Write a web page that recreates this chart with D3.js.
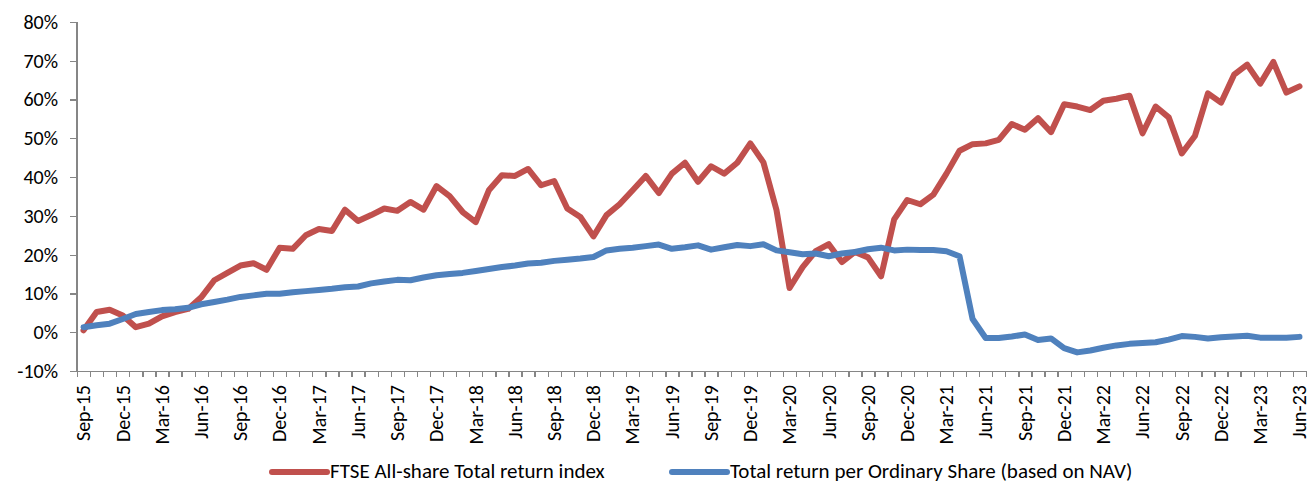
<!DOCTYPE html>
<html>
<head>
<meta charset="utf-8">
<script src="https://cdn.jsdelivr.net/npm/d3@7"></script>
<style>
  body { margin: 0; background: #fff; }
  .axis path, .axis line { stroke: #868686; stroke-width: 1.3; shape-rendering: crispEdges; }
  .axis text, .label, .legend text { font-family: Carlito, Calibri, Lato, sans-serif; fill: #000; }
  .series { fill: none; stroke-width: 6; stroke-linejoin: round; stroke-linecap: round; }
</style>
</head>
<body>
<div id="chart"></div>
<script>
// Monthly categories, Sep-15 .. Jun-23
const categories = [
  'Sep-15', 'Oct-15', 'Nov-15', 'Dec-15',
  'Jan-16', 'Feb-16', 'Mar-16', 'Apr-16', 'May-16', 'Jun-16', 'Jul-16', 'Aug-16', 'Sep-16', 'Oct-16', 'Nov-16', 'Dec-16',
  'Jan-17', 'Feb-17', 'Mar-17', 'Apr-17', 'May-17', 'Jun-17', 'Jul-17', 'Aug-17', 'Sep-17', 'Oct-17', 'Nov-17', 'Dec-17',
  'Jan-18', 'Feb-18', 'Mar-18', 'Apr-18', 'May-18', 'Jun-18', 'Jul-18', 'Aug-18', 'Sep-18', 'Oct-18', 'Nov-18', 'Dec-18',
  'Jan-19', 'Feb-19', 'Mar-19', 'Apr-19', 'May-19', 'Jun-19', 'Jul-19', 'Aug-19', 'Sep-19', 'Oct-19', 'Nov-19', 'Dec-19',
  'Jan-20', 'Feb-20', 'Mar-20', 'Apr-20', 'May-20', 'Jun-20', 'Jul-20', 'Aug-20', 'Sep-20', 'Oct-20', 'Nov-20', 'Dec-20',
  'Jan-21', 'Feb-21', 'Mar-21', 'Apr-21', 'May-21', 'Jun-21', 'Jul-21', 'Aug-21', 'Sep-21', 'Oct-21', 'Nov-21', 'Dec-21',
  'Jan-22', 'Feb-22', 'Mar-22', 'Apr-22', 'May-22', 'Jun-22', 'Jul-22', 'Aug-22', 'Sep-22', 'Oct-22', 'Nov-22', 'Dec-22',
  'Jan-23', 'Feb-23', 'Mar-23', 'Apr-23', 'May-23', 'Jun-23'
];

// Labels shown on the x axis (every third month)
const tickLabels = [
  'Sep-15', 'Dec-15', 'Mar-16', 'Jun-16', 'Sep-16', 'Dec-16', 'Mar-17', 'Jun-17',
  'Sep-17', 'Dec-17', 'Mar-18', 'Jun-18', 'Sep-18', 'Dec-18', 'Mar-19', 'Jun-19',
  'Sep-19', 'Dec-19', 'Mar-20', 'Jun-20', 'Sep-20', 'Dec-20', 'Mar-21', 'Jun-21',
  'Sep-21', 'Dec-21', 'Mar-22', 'Jun-22', 'Sep-22', 'Dec-22', 'Mar-23', 'Jun-23'
];

const yTicks = [-10, 0, 10, 20, 30, 40, 50, 60, 70, 80];

// FTSE All-share Total return index (%)
const ftseValues = [
  0.5, 5.2, 5.8, 4.3,
  1.3, 2.2, 4.1, 5.2, 6.0, 9.0, 13.4, 15.3, 17.2, 17.8, 16.1, 21.8,
  21.5, 25.0, 26.6, 26.1, 31.6, 28.7, 30.2, 31.9, 31.3, 33.6, 31.6, 37.7,
  35.1, 31.0, 28.4, 36.6, 40.5, 40.3, 42.1, 37.9, 39.0, 31.9, 29.7, 24.7,
  30.2, 33.0, 36.6, 40.3, 35.9, 40.9, 43.7, 38.8, 42.8, 40.9, 43.7, 48.7,
  43.8, 31.5, 11.4, 16.8, 20.9, 22.7, 18.1, 20.7, 19.3, 14.4, 29.1, 34.1,
  33.0, 35.5, 40.9, 46.8, 48.5, 48.7, 49.6, 53.7, 52.2, 55.2, 51.6, 58.8,
  58.2, 57.3, 59.7, 60.2, 61.0, 51.3, 58.2, 55.4, 46.1, 50.6, 61.6, 59.2,
  66.4, 69.0, 64.1, 69.7, 61.8, 63.4
];

// Total return per Ordinary Share (based on NAV) (%)
const navValues = [
  1.3, 1.8, 2.2, 3.4,
  4.7, 5.2, 5.7, 5.9, 6.3, 7.2, 7.8, 8.4, 9.1, 9.5, 9.9, 9.9,
  10.3, 10.6, 10.9, 11.2, 11.6, 11.8, 12.6, 13.1, 13.5, 13.4, 14.1, 14.7,
  15.0, 15.3, 15.8, 16.3, 16.8, 17.2, 17.7, 17.9, 18.4, 18.7, 19.0, 19.4,
  21.1, 21.5, 21.8, 22.2, 22.6, 21.5, 21.9, 22.4, 21.3, 21.9, 22.5, 22.2,
  22.7, 21.1, 20.6, 20.1, 20.3, 19.6, 20.3, 20.7, 21.4, 21.8, 21.1, 21.3,
  21.2, 21.2, 20.9, 19.6, 3.4, -1.5, -1.5, -1.1, -0.6, -2.0, -1.6, -4.1,
  -5.2, -4.7, -4.0, -3.4, -3.0, -2.8, -2.6, -1.9, -1.0, -1.2, -1.6, -1.3,
  -1.1, -0.9, -1.4, -1.4, -1.4, -1.2
];

const seriesNames = ['FTSE All-share Total return index', 'Total return per Ordinary Share (based on NAV)'];
const seriesColors = ['#C0504D', '#4F81BD'];

const W = 1313, H = 484;
const plot = { left: 77, right: 1306, top: 22, bottom: 371 };

const svg = d3.select('#chart').append('svg')
  .attr('width', W)
  .attr('height', H);

// Scales: one band per month, points centred in the band
const x = d3.scaleLinear()
  .domain([-0.5, categories.length - 0.5])
  .range([plot.left, plot.right]);

const y = d3.scaleLinear()
  .domain([-10, 80])
  .range([plot.bottom, plot.top]);

// Y axis
svg.append('g')
  .attr('class', 'axis')
  .attr('transform', `translate(${plot.left},0)`)
  .call(d3.axisLeft(y).tickValues(yTicks).tickFormat(d => d + '%').tickSize(7).tickPadding(12))
  .call(g => g.select('.domain').attr('d', `M0,${plot.top}V${plot.bottom}`))
  .selectAll('text')
  .style('font-size', '20px');

// X axis (tick marks between categories)
svg.append('g')
  .attr('class', 'axis')
  .attr('transform', `translate(0,${plot.bottom})`)
  .call(d3.axisBottom(x)
    .tickValues(d3.range(categories.length + 1).map(i => i - 0.5))
    .tickFormat('')
    .tickSize(6)
    .tickSizeOuter(0));

// X tick labels, rotated
svg.append('g')
  .selectAll('text')
  .data(tickLabels)
  .enter()
  .append('text')
  .attr('class', 'label')
  .attr('transform', d => `translate(${x(categories.indexOf(d))},385) rotate(-90)`)
  .attr('text-anchor', 'end')
  .attr('dy', '0.34em')
  .style('font-size', '20px')
  .text(d => d);

// Lines
const line = d3.line()
  .x((d, i) => x(i))
  .y(d => y(d));

[ftseValues, navValues].forEach((vals, k) => {
  svg.append('path')
    .datum(vals)
    .attr('class', 'series')
    .attr('stroke', seriesColors[k])
    .attr('d', line);
});

// Legend
const legendX = [272, 672];
const legend = svg.append('g').attr('class', 'legend');
seriesNames.forEach((name, k) => {
  legend.append('line')
    .attr('x1', legendX[k])
    .attr('x2', legendX[k] + 55)
    .attr('y1', 472)
    .attr('y2', 472)
    .attr('stroke', seriesColors[k])
    .attr('stroke-width', 6)
    .attr('stroke-linecap', 'round');
  legend.append('text')
    .attr('x', legendX[k] + 58)
    .attr('y', 478)
    .style('font-size', '21px')
    .text(name);
});
</script>
</body>
</html>
